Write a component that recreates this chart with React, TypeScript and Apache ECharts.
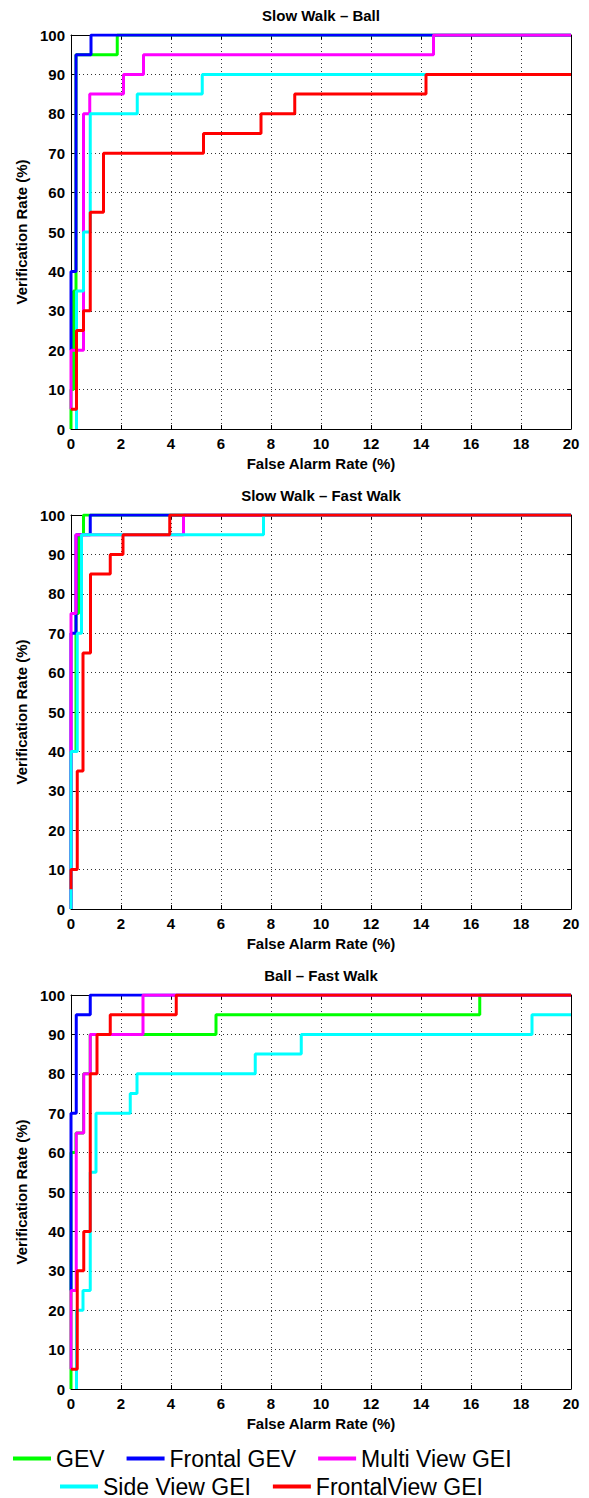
import React, { useEffect, useRef } from 'react';
import * as echarts from 'echarts';

const FONT = '"Liberation Sans", Arial, Helvetica, sans-serif';

const seriesNames = ['GEV', 'Frontal GEV', 'Multi View GEI', 'Side View GEI', 'FrontalView GEI'];
const seriesColors = ['#00ff00', '#0000ff', '#ff00ff', '#00ffff', '#ff0000'];
const chartTitles = ['Slow Walk – Ball', 'Slow Walk – Fast Walk', 'Ball – Fast Walk'];
const xTickValues = [0, 2, 4, 6, 8, 10, 12, 14, 16, 18, 20];
const yTickValues = [0, 10, 20, 30, 40, 50, 60, 70, 80, 90, 100];

// Chart 1: Slow Walk – Ball  ([false alarm %, verification %])
const swBallGEV = [[0, 0], [0, 10], [0.1, 10], [0.1, 35], [0.2, 35], [0.2, 95], [1.85, 95], [1.85, 100], [20, 100]];
const swBallFrontalGEV = [[0, 20], [0, 40], [0.2, 40], [0.2, 95], [0.8, 95], [0.8, 100], [20, 100]];
const swBallMultiView = [[0, 5], [0, 20], [0.5, 20], [0.5, 80], [0.75, 80], [0.75, 85], [2.1, 85], [2.1, 90], [2.9, 90], [2.9, 95], [14.5, 95], [14.5, 100], [20, 100]];
const swBallSideView = [[0.22, 0], [0.22, 35], [0.5, 35], [0.5, 50], [0.77, 50], [0.77, 80], [2.65, 80], [2.65, 85], [5.25, 85], [5.25, 90], [20, 90]];
const swBallFrontalView = [[0, 5], [0.22, 5], [0.22, 25], [0.5, 25], [0.5, 30], [0.77, 30], [0.77, 55], [1.3, 55], [1.3, 70], [5.3, 70], [5.3, 75], [7.6, 75], [7.6, 80], [8.95, 80], [8.95, 85], [14.2, 85], [14.2, 90], [20, 90]];

// Chart 2: Slow Walk – Fast Walk
const swFwGEV = [[0, 0], [0, 40], [0.2, 40], [0.2, 75], [0.3, 75], [0.3, 95], [0.5, 95], [0.5, 100], [20, 100]];
const swFwFrontalGEV = [[0, 0], [0, 70], [0.2, 70], [0.2, 95], [0.77, 95], [0.77, 100], [20, 100]];
const swFwMultiView = [[0, 0], [0, 75], [0.2, 75], [0.2, 95], [4.5, 95], [4.5, 100], [20, 100]];
const swFwSideView = [[0, 0], [0, 40], [0.25, 40], [0.25, 70], [0.42, 70], [0.42, 95], [7.7, 95], [7.7, 100], [20, 100]];
const swFwFrontalView = [[0, 5], [0, 10], [0.25, 10], [0.25, 35], [0.48, 35], [0.48, 65], [0.78, 65], [0.78, 85], [1.57, 85], [1.57, 90], [2.08, 90], [2.08, 95], [3.95, 95], [3.95, 100], [20, 100]];

// Chart 3: Ball – Fast Walk
const bFwGEV = [[0, 0], [0, 60], [0.2, 60], [0.2, 65], [0.5, 65], [0.5, 80], [0.77, 80], [0.77, 90], [5.8, 90], [5.8, 95], [16.35, 95], [16.35, 100], [20, 100]];
const bFwFrontalGEV = [[0, 25], [0, 70], [0.21, 70], [0.21, 95], [0.77, 95], [0.77, 100], [20, 100]];
const bFwMultiView = [[0, 5], [0, 25], [0.21, 25], [0.21, 65], [0.51, 65], [0.51, 80], [0.77, 80], [0.77, 90], [2.88, 90], [2.88, 100], [20, 100]];
const bFwSideView = [[0.22, 0], [0.22, 20], [0.48, 20], [0.48, 25], [0.77, 25], [0.77, 55], [1.0, 55], [1.0, 70], [2.37, 70], [2.37, 75], [2.64, 75], [2.64, 80], [7.37, 80], [7.37, 85], [9.21, 85], [9.21, 90], [18.44, 90], [18.44, 95], [20, 95]];
const bFwFrontalView = [[0, 5], [0.25, 5], [0.25, 30], [0.51, 30], [0.51, 40], [0.77, 40], [0.77, 80], [1.04, 80], [1.04, 90], [1.57, 90], [1.57, 95], [4.21, 95], [4.21, 100], [20, 100]];

const chartData = [
  [swBallGEV, swBallFrontalGEV, swBallMultiView, swBallSideView, swBallFrontalView],
  [swFwGEV, swFwFrontalGEV, swFwMultiView, swFwSideView, swFwFrontalView],
  [bFwGEV, bFwFrontalGEV, bFwMultiView, bFwSideView, bFwFrontalView],
];

const gridTops = [35, 515, 995];
const GRID_H = 394;

function buildOption() {
  const grid: any[] = [];
  const xAxis: any[] = [];
  const yAxis: any[] = [];
  const series: any[] = [];
  const labelStyle = { fontFamily: FONT, fontWeight: 'bold', fontSize: 15, color: '#000' };
  const axisLine = { show: true, onZero: false, lineStyle: { color: '#000', width: 1 } };
  const axisTick = { show: true, inside: true, length: 4, lineStyle: { color: '#000' } };
  const splitLine = { show: true, lineStyle: { color: '#333', type: [1, 3], width: 1 } };
  const xMin = xTickValues[0];
  const xMax = xTickValues[xTickValues.length - 1];
  const xInt = xTickValues[1] - xTickValues[0];
  const yMin = yTickValues[0];
  const yMax = yTickValues[yTickValues.length - 1];
  const yInt = yTickValues[1] - yTickValues[0];

  chartTitles.forEach((title, k) => {
    grid.push({ left: 71, right: 18, top: gridTops[k], height: GRID_H, containLabel: false });
    xAxis.push({
      gridIndex: k, type: 'value', position: 'bottom', min: xMin, max: xMax, interval: xInt,
      axisLine, axisTick, splitLine,
      axisLabel: { ...labelStyle, margin: 7, showMinLabel: true, showMaxLabel: true },
      name: 'False Alarm Rate (%)', nameLocation: 'middle', nameGap: 27, nameTextStyle: labelStyle,
    });
    xAxis.push({
      gridIndex: k, type: 'value', position: 'top', min: xMin, max: xMax, interval: xInt,
      axisLine, axisTick, splitLine: { show: false }, axisLabel: { show: false },
      name: title, nameLocation: 'middle', nameGap: 12, nameTextStyle: labelStyle,
    });
    yAxis.push({
      gridIndex: k, type: 'value', position: 'left', min: yMin, max: yMax, interval: yInt,
      axisLine, axisTick, splitLine,
      axisLabel: { ...labelStyle, margin: 6, showMinLabel: true, showMaxLabel: true },
      name: 'Verification Rate (%)', nameLocation: 'middle', nameGap: 42, nameTextStyle: labelStyle,
    });
    yAxis.push({
      gridIndex: k, type: 'value', position: 'right', min: yMin, max: yMax, interval: yInt,
      axisLine, axisTick, splitLine: { show: false }, axisLabel: { show: false },
    });
    chartData[k].forEach((data, i) => {
      series.push({
        type: 'line', name: seriesNames[i], xAxisIndex: 2 * k, yAxisIndex: 2 * k,
        data, showSymbol: false, symbol: 'none', clip: true,
        lineStyle: { color: seriesColors[i], width: 3 }, itemStyle: { color: seriesColors[i] },
        emphasis: { disabled: true },
      });
    });
  });

  const legendBase = {
    orient: 'horizontal', icon: 'rect', itemWidth: 38, itemHeight: 4, itemGap: 22,
    selectedMode: false, padding: 0,
    textStyle: { fontFamily: FONT, fontSize: 23, color: '#000' },
  };

  return {
    animation: false,
    backgroundColor: '#fff',
    grid, xAxis, yAxis, series,
    legend: [
      { ...legendBase, left: 13, top: 1447, data: seriesNames.slice(0, 3) },
      { ...legendBase, left: 60, top: 1475, data: seriesNames.slice(3) },
    ],
  };
}

export default function App() {
  const ref = useRef<HTMLDivElement>(null);
  useEffect(() => {
    if (!ref.current) return;
    const chart = echarts.init(ref.current, null, { renderer: 'svg' });
    chart.setOption(buildOption() as any);
    return () => chart.dispose();
  }, []);
  return <div ref={ref} style={{ position: 'absolute', left: 0, top: 0, width: 589, height: 1498, background: '#fff' }} />;
}
